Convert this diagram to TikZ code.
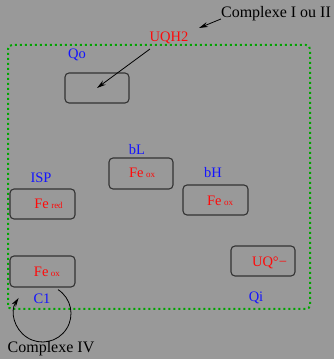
\documentclass[tikz,border=0pt]{standalone}
\usepackage{fontspec}
\setmainfont{Liberation Serif}
\usetikzlibrary{arrows.meta}

\definecolor{fondo}{RGB}{153,153,153}
\definecolor{verde}{RGB}{0,165,0}
\definecolor{azul}{RGB}{20,20,255}
\definecolor{rojo}{RGB}{255,10,10}

\tikzset{
  siteBox/.style={draw=black!80, line width=1.1pt, rounded corners=4pt,
    minimum width=#1, minimum height=30pt, inner sep=0pt},
  siteLabel/.style={text=azul, inner sep=0pt, font=\fontsize{14.5}{17}\selectfont},
  redText/.style={text=rojo, inner sep=0pt, font=\fontsize{14.5}{17}\selectfont},
  bigText/.style={text=black, inner sep=0pt, font=\fontsize{16}{19}\selectfont},
  flecha/.style={-{Stealth[length=9pt,width=5pt]}, line width=0.8pt}
}

\newcommand{\fe}[1]{Fe\hspace{2.5pt}{\fontsize{9}{10}\selectfont #1}}

\begin{document}
\begin{tikzpicture}[x=1pt,y=1pt]
    % Fondo gris
    \fill[fondo] (0,0) rectangle (334,359);
    \useasboundingbox (0,0) rectangle (334,359);

    % Complejo como rectangulo punteado
    \draw[verde, line width=2pt, dash pattern=on 2pt off 3pt, rounded corners=4pt]
      (8,50) rectangle (310,314);

    % Sitios (cajas)
    \node[siteBox=64pt] (qo) at (97,271) {};
    \node[siteBox=64pt, minimum height=31pt] (bl) at (141,185.5) {};
    \node[siteBox=65pt] (isp) at (42.5,155) {};
    \node[siteBox=65pt] (bh) at (215.5,159) {};
    \node[siteBox=65pt, minimum height=31pt] (c1) at (42.5,87.5) {};
    \node[siteBox=64pt] (qi) at (263,98) {};

    % Etiquetas de los sitios
    \node[siteLabel] (qoLabel) at (77,304) {Qo};
    \node[siteLabel] (blLabel) at (137,209) {bL};
    \node[siteLabel] (ispLabel) at (41,181) {ISP};
    \node[siteLabel] (bhLabel) at (213,186) {bH};
    \node[siteLabel] (c1Label) at (42,60) {C1};
    \node[siteLabel] (qiLabel) at (256,61) {Qi};

    % Contenido de las cajas
    \node[redText] (blFe) at (142,186) {\fe{ox}};
    \node[redText] (ispFe) at (48.5,155) {\fe{red}};
    \node[redText] (bhFe) at (220,158) {\fe{ox}};
    \node[redText] (c1Fe) at (47,87) {\fe{ox}};
    \node[redText] (uq) at (269.5,96) {UQ°\textminus};

    % Entrada de UQH2 hacia Qo
    \node[redText] (uqh2) at (169,321) {UQH2};
    \coordinate (uqh2Out) at (150,310);
    \draw[flecha] (uqh2Out) -- (qo.center);

    % Complejo I o II
    \node[bigText] (cplxIII) at (276,345) {Complexe I ou II};
    \coordinate (cplxTip) at (199,331);
    \draw[flecha] ([yshift=-5pt]cplxIII.west) -- (cplxTip);

    % Complejo IV con flecha circular
    \coordinate (giro) at (42.5,45.5);
    \draw[flecha] ([shift={(57:28.5)}]giro) arc (57:-213:28.5);
    \node[bigText] (cplxIV) at (51,10) {Complexe IV};

  \end{tikzpicture}
\end{document}
